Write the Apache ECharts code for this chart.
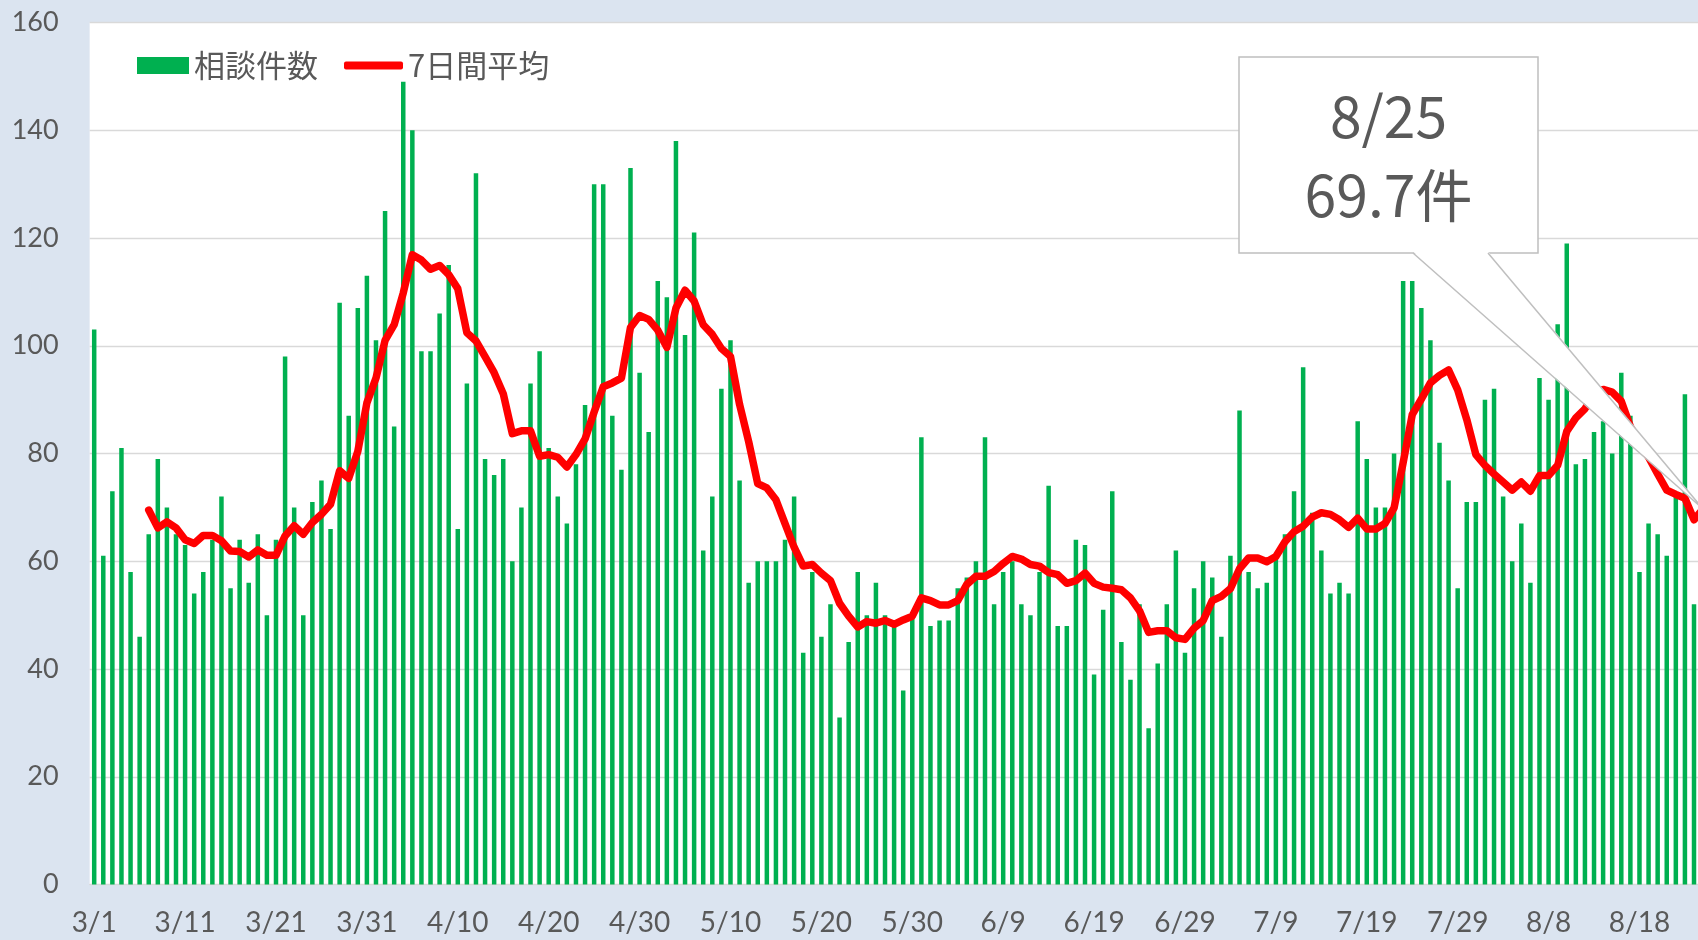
<!DOCTYPE html>
<html>
<head>
<meta charset="utf-8">
<script src="https://cdn.jsdelivr.net/npm/echarts@6/dist/echarts.min.js"></script>
<style>
  html, body { margin: 0; padding: 0; background: #dbe4f0; overflow: hidden; }
  /* 右端の 8/25 は元画像で枠外に切れているため、描画領域を少し広げる */
  #chart { width: 1708px; height: 940px; }
</style>
</head>
<body>
<div id="chart"></div>
<script>
// 日付ラベル 3/1 〜 8/25
const monthDays = [[3, 31], [4, 30], [5, 31], [6, 30], [7, 31], [8, 25]];
const days = [];
monthDays.forEach(function (m) {
  for (let d = 1; d <= m[1]; d++) days.push(m[0] + '/' + d);
});

// 相談件数（日別）
const counts = [
  103, 61, 73, 81, 58, 46, 65, 79, 70, 65,
  63, 54, 58, 64, 72, 55, 64, 56, 65, 50,
  64, 98, 70, 50, 71, 75, 66, 108, 87, 107,
  113, 101, 125, 85, 149, 140, 99, 99, 106, 115,
  66, 93, 132, 79, 76, 79, 60, 70, 93, 99,
  81, 72, 67, 78, 89, 130, 130, 87, 77, 133,
  95, 84, 112, 109, 138, 102, 121, 62, 72, 92,
  101, 75, 56, 60, 60, 60, 64, 72, 43, 58,
  46, 52, 31, 45, 58, 50, 56, 50, 48, 36,
  50, 83, 48, 49, 49, 55, 57, 60, 83, 52,
  58, 60, 52, 50, 58, 74, 48, 48, 64, 63,
  39, 51, 73, 45, 38, 52, 29, 41, 52, 62,
  43, 55, 60, 57, 46, 61, 88, 58, 55, 56,
  61, 65, 73, 96, 69, 62, 54, 56, 54, 86,
  79, 70, 70, 80, 112, 112, 107, 101, 82, 75,
  55, 71, 71, 90, 92, 72, 60, 67, 56, 94,
  90, 104, 119, 78, 79, 84, 86, 80, 95, 87,
  58, 67, 65, 61, 72, 91, 52, 80
];

// 7日間平均
const avg7 = [
  '-', '-', '-', '-', '-', '-', 69.5, 66.2, 67.3, 66.2,
  64.0, 63.3, 64.8, 64.8, 63.8, 61.9, 61.8, 60.8, 62.1, 61.1,
  61.1, 64.7, 66.6, 65.0, 67.2, 68.7, 70.6, 76.8, 75.4, 80.4,
  89.4, 94.0, 101.0, 103.9, 109.8, 116.9, 115.9, 114.2, 114.9, 113.2,
  110.6, 102.4, 100.9, 98.0, 95.0, 91.1, 83.7, 84.2, 84.2, 79.5,
  79.8, 79.3, 77.5, 79.8, 82.7, 87.7, 92.4, 93.1, 94.0, 103.4,
  105.6, 104.9, 102.9, 99.7, 107.0, 110.3, 108.3, 103.9, 102.1, 99.5,
  98.0, 89.1, 82.2, 74.4, 73.6, 71.4, 67.0, 62.6, 59.1, 59.4,
  57.8, 56.4, 52.2, 49.8, 47.8, 48.8, 48.5, 49.0, 48.3, 49.1,
  49.8, 53.2, 52.7, 51.9, 51.9, 52.7, 55.7, 57.2, 57.2, 58.1,
  59.6, 60.9, 60.4, 59.4, 59.1, 57.9, 57.5, 55.9, 56.4, 57.8,
  55.9, 55.2, 55.0, 54.7, 53.2, 50.8, 46.8, 47.1, 47.1, 45.8,
  45.5, 47.6, 49.0, 52.7, 53.5, 54.9, 58.6, 60.6, 60.6, 59.9,
  60.9, 63.6, 65.5, 66.5, 68.2, 69.0, 68.7, 67.7, 66.3, 68.0,
  66.0, 66.0, 67.0, 69.9, 78.3, 87.2, 90.1, 93.1, 94.5, 95.5,
  91.8, 86.3, 79.8, 77.8, 76.2, 74.7, 73.2, 74.7, 73.0, 75.9,
  75.9, 77.8, 84.1, 86.6, 88.3, 90.9, 91.9, 91.4, 89.7, 85.0,
  82.0, 79.3, 76.2, 73.2, 72.4, 71.7, 67.7, 69.7
];

const lastLabel = ['8/25', '69.7件'];

const gray = '#595959';
const numFont = 'Lato, "Noto Sans CJK JP", sans-serif';
const jpFont = '"Noto Sans CJK JP", sans-serif';

const chart = echarts.init(document.getElementById('chart'));

chart.setOption({
  animation: false,
  backgroundColor: '#dbe4f0',
  grid: {
    show: true,
    backgroundColor: '#ffffff',
    borderWidth: 0,
    left: 89.65,
    right: 0.35,
    top: 22.5,
    bottom: 55.5
  },
  legend: [{
    data: [{ name: '相談件数', icon: 'rect' }],
    left: 137,
    top: 50,
    padding: 0,
    itemWidth: 52,
    itemHeight: 17,
    selectedMode: false,
    textStyle: { color: gray, fontSize: 31, fontFamily: jpFont }
  }, {
    data: [{ name: '7日間平均', icon: 'roundRect' }],
    left: 344,
    top: 50,
    padding: 0,
    itemWidth: 59,
    itemHeight: 8,
    selectedMode: false,
    textStyle: { color: gray, fontSize: 31, fontFamily: jpFont }
  }],
  xAxis: {
    type: 'category',
    data: days,
    boundaryGap: true,
    axisLine: { lineStyle: { color: '#d9d9d9', width: 1 } },
    axisTick: { show: false },
    axisLabel: {
      interval: 9,
      margin: 24,
      color: gray,
      fontSize: 28,
      fontFamily: numFont
    }
  },
  yAxis: {
    type: 'value',
    min: 0,
    max: 160,
    interval: 20,
    axisLine: { show: false },
    axisTick: { show: false },
    axisLabel: { margin: 31, color: gray, fontSize: 27, fontFamily: numFont },
    splitLine: { lineStyle: { color: '#d9d9d9', width: 1.3 } }
  },
  series: [{
    name: '相談件数',
    type: 'bar',
    data: counts,
    barWidth: 4.5,
    itemStyle: { color: '#00b050' }
  }, {
    name: '7日間平均',
    type: 'line',
    data: avg7,
    showSymbol: false,
    symbol: 'none',
    z: 3,
    itemStyle: { color: '#ff0000' },
    lineStyle: { color: '#ff0000', width: 7.5, cap: 'round', join: 'round' }
  }]
});

// 吹き出し（8/25の平均値を指す）
const tip = chart.convertToPixel({ seriesIndex: 1 }, [days.length - 1, avg7[avg7.length - 1]]);
const boxX = 1239, boxY = 57, boxW = 299, boxH = 196;
const baseL = 1413, baseR = 1488;

chart.setOption({
  graphic: [{
    type: 'rect',
    z: 100,
    shape: { x: boxX, y: boxY, width: boxW, height: boxH },
    style: { fill: '#ffffff', stroke: '#bfbfbf', lineWidth: 1.5 }
  }, {
    type: 'polygon',
    z: 101,
    shape: { points: [[baseL, boxY + boxH - 1.5], [baseR, boxY + boxH - 1.5], tip] },
    style: { fill: '#ffffff', stroke: null }
  }, {
    type: 'polyline',
    z: 102,
    shape: { points: [[baseL, boxY + boxH], tip, [baseR, boxY + boxH]] },
    style: { fill: null, stroke: '#bfbfbf', lineWidth: 1.5 }
  }, {
    type: 'text',
    z: 103,
    x: boxX + boxW / 2,
    y: 116,
    style: {
      text: lastLabel[0],
      fill: gray,
      fontSize: 57,
      fontFamily: jpFont,
      align: 'center',
      verticalAlign: 'middle'
    }
  }, {
    type: 'text',
    z: 103,
    x: boxX + boxW / 2,
    y: 195,
    style: {
      text: lastLabel[1],
      fill: gray,
      fontSize: 57,
      fontFamily: jpFont,
      align: 'center',
      verticalAlign: 'middle'
    }
  }]
});
</script>
</body>
</html>
